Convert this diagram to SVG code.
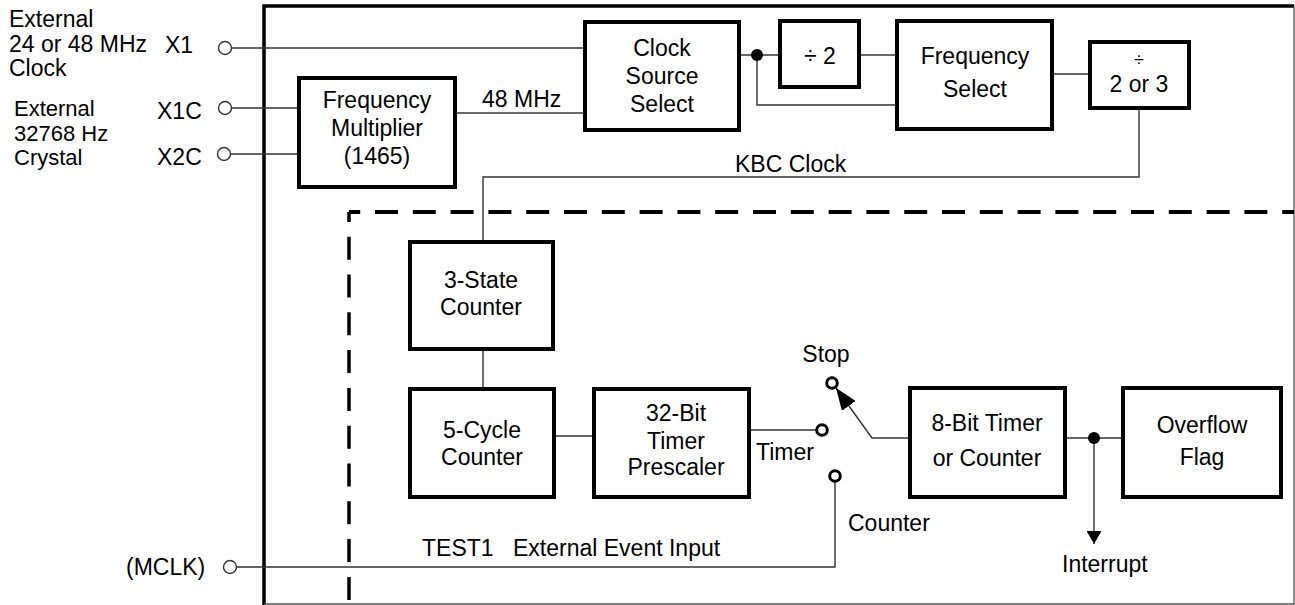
<svg xmlns="http://www.w3.org/2000/svg" width="1295" height="605" viewBox="0 0 1295 605">
<defs>
<style>
text{font-family:"Liberation Sans",Arial,sans-serif;font-size:23px;fill:#000}
.c{text-anchor:middle}
.s{font-size:22px}
.box{fill:#fff;stroke:#000;stroke-width:4}
.ln{fill:none;stroke:#333;stroke-width:1.4}
.term{fill:#fff;stroke:#333;stroke-width:1.4}
.sw{fill:#fff;stroke:#000;stroke-width:3}
.dash{fill:none;stroke:#000;stroke-width:4;stroke-dasharray:23 14.8}
</style>
<marker id="ah" viewBox="0 0 22 17" refX="22" refY="8.5" markerWidth="22" markerHeight="17" markerUnits="userSpaceOnUse" orient="auto"><path d="M0,0 L22,8.5 L0,17 Z" fill="#000"/></marker>
<marker id="ah2" viewBox="0 0 13 15" refX="13" refY="7.5" markerWidth="13" markerHeight="15" markerUnits="userSpaceOnUse" orient="auto"><path d="M0,0 L13,7.5 L0,15 Z" fill="#000"/></marker>
</defs>
<rect width="1295" height="605" fill="#fff"/>
<g id="frame">
<path d="M264,605 V6 H1294" fill="none" stroke="#000" stroke-width="3.5"/>
<path d="M1294,6 V604 H264" fill="none" stroke="#555" stroke-width="1.3"/>
<path class="dash" d="M349,212 H1294" style="stroke-dashoffset:11.8"/>
<path class="dash" d="M349,212 V605" style="stroke-dashoffset:13.1;stroke-width:3.5"/>
</g>
<g id="connectors">
<path class="ln" d="M232,48 H585"/>
<path class="ln" d="M232,108 H299"/>
<path class="ln" d="M231,154 H299"/>
<path class="ln" d="M455,113 H585"/>
<path class="ln" d="M739,55 H780"/>
<path class="ln" d="M757,55 V105 H897"/>
<path class="ln" d="M859,55 H897"/>
<path class="ln" d="M1052,74 H1090"/>
<path class="ln" d="M1139,108 V177 H483 V242"/>
<path class="ln" d="M483,349 V389"/>
<path class="ln" d="M554,436 H594"/>
<path class="ln" d="M749,430 H817"/>
<path class="ln" d="M236,567 H835 V482"/>
<path class="ln" d="M910,438 H872 L836,388" stroke="#000" stroke-width="1.6" marker-end="url(#ah)"/>
<path class="ln" d="M1065,438 H1123"/>
<path class="ln" d="M1094,438 V544" stroke="#000" marker-end="url(#ah2)"/>
<circle cx="757" cy="55" r="6" fill="#000"/>
<circle cx="1094" cy="438" r="6" fill="#000"/>
<circle class="term" cx="225" cy="48" r="6.5"/>
<circle class="term" cx="225" cy="108" r="6.5"/>
<circle class="term" cx="224" cy="154" r="6.5"/>
<circle class="term" cx="230" cy="567" r="6.5"/>
<circle class="sw" cx="832" cy="383" r="5.3"/>
<circle class="sw" cx="822" cy="430" r="5.3"/>
<circle class="sw" cx="835" cy="476" r="5.3"/>
</g>
<g id="labels">
<text x="9" y="27">External</text>
<text x="9" y="52">24 or 48 MHz</text>
<text x="9" y="76">Clock</text>
<text x="165" y="53">X1</text>
<text class="s" x="14" y="116">External</text>
<text class="s" x="14" y="141">32768 Hz</text>
<text class="s" x="14" y="165">Crystal</text>
<text x="157" y="119">X1C</text>
<text x="157" y="165">X2C</text>
<text x="482" y="107">48 MHz</text>
<text x="735" y="172">KBC Clock</text>
<text x="126" y="575">(MCLK)</text>
<text x="422" y="556">TEST1</text>
<text x="513" y="556">External Event Input</text>
<text x="826" y="362" class="c">Stop</text>
<text x="756" y="460">Timer</text>
<text x="848" y="531">Counter</text>
<text x="1062" y="572">Interrupt</text>
</g>
<g id="clock-source-select">
<rect class="box" x="585" y="22" width="154" height="108"/>
<text class="c" x="662" y="56">Clock</text>
<text class="c" x="662" y="84">Source</text>
<text class="c" x="662" y="112">Select</text>
</g>
<g id="frequency-multiplier">
<rect class="box" x="299" y="78" width="156" height="109"/>
<text class="c" x="377" y="108">Frequency</text>
<text class="c" x="377" y="136">Multiplier</text>
<text class="c" x="377" y="164">(1465)</text>
</g>
<g id="div2">
<rect class="box" x="780" y="21" width="79" height="66"/>
<text class="c" x="820" y="64">÷ 2</text>
</g>
<g id="frequency-select">
<rect class="box" x="897" y="21" width="155" height="108"/>
<text class="c" x="975" y="64">Frequency</text>
<text class="c" x="975" y="97">Select</text>
</g>
<g id="div2or3">
<rect class="box" x="1090" y="42" width="99" height="66"/>
<text class="c" x="1139" y="66" style="font-size:18px">÷</text>
<text class="c" x="1139" y="92">2 or 3</text>
</g>
<g id="three-state-counter">
<rect class="box" x="410" y="242" width="143" height="107"/>
<text class="c" x="481" y="288">3-State</text>
<text class="c" x="481" y="315">Counter</text>
</g>
<g id="five-cycle-counter">
<rect class="box" x="410" y="389" width="144" height="108"/>
<text class="c" x="482" y="438">5-Cycle</text>
<text class="c" x="482" y="465">Counter</text>
</g>
<g id="timer-prescaler">
<rect class="box" x="594" y="389" width="155" height="108"/>
<text class="c" x="676" y="421">32-Bit</text>
<text class="c" x="676" y="449">Timer</text>
<text class="c" x="676" y="475">Prescaler</text>
</g>
<g id="timer-counter">
<rect class="box" x="910" y="388" width="155" height="109"/>
<text class="c" x="987" y="431">8-Bit Timer</text>
<text class="c" x="987" y="466">or Counter</text>
</g>
<g id="overflow-flag">
<rect class="box" x="1123" y="388" width="158" height="109"/>
<text class="c" x="1202" y="433">Overflow</text>
<text class="c" x="1202" y="465">Flag</text>
</g>
</svg>
